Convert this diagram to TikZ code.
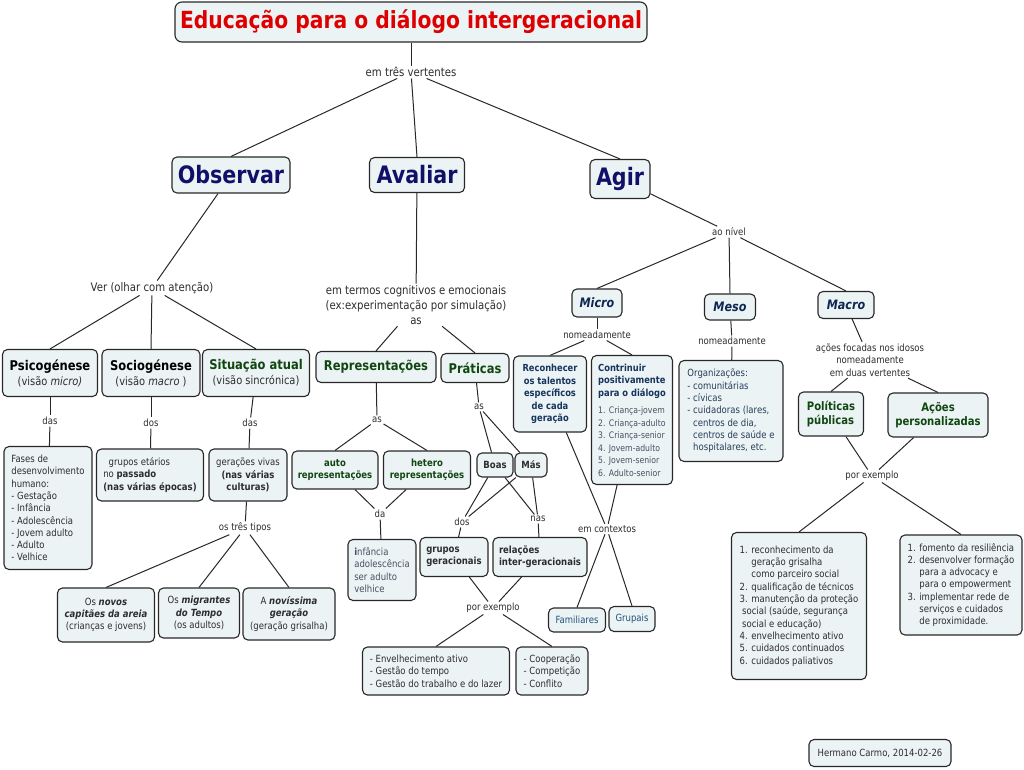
\documentclass[tikz,border=0pt]{standalone}
\usepackage{fontspec}
\setmainfont{DejaVu Sans}[FakeStretch=0.86]
\definecolor{boxfill}{RGB}{236,243,245}
\definecolor{bordercol}{RGB}{40,40,40}
\definecolor{txt}{RGB}{45,45,45}
\definecolor{linecol}{RGB}{40,40,40}
\definecolor{titlered}{RGB}{222,0,0}
\definecolor{navy}{RGB}{16,16,105}
\definecolor{microblue}{RGB}{14,40,82}
\definecolor{dkgreen}{RGB}{16,70,16}
\definecolor{recblue}{RGB}{22,52,92}
\definecolor{listblue}{RGB}{70,82,98}
\definecolor{orgblue}{RGB}{38,62,88}
\definecolor{ctxblue}{RGB}{32,82,122}
\newcommand{\FSmall}{\fontsize{9.9}{12.3}\selectfont}
\newcommand{\FBig}{\fontsize{11.8}{15}\selectfont}
\newcommand{\FHead}{\fontsize{13.4}{15}\selectfont\bfseries}
\newcommand{\FSub}{\fontsize{11.5}{15}\selectfont}
\newcommand{\FList}{\fontsize{9}{11.3}\selectfont\mdseries\color{listblue}}
\begin{document}
\begin{tikzpicture}[x=1pt,y=-1pt,
  box/.style={draw=bordercol, line width=1.1pt, rounded corners=5pt, fill=boxfill,
    inner sep=2pt, text=txt, font=\FSmall},
  lbl/.style={inner sep=1.5pt, text=txt, font=\FSmall, align=center},
  biglbl/.style={inner sep=1.5pt, text=txt, font=\FBig, align=center},
  conn/.style={draw=linecol, line width=1pt}]
\fill[white] (0,0) rectangle (1024,769);
\useasboundingbox (0,0) rectangle (1024,769);

% ---- top ----
\node[box, rounded corners=7pt, minimum width=472pt, minimum height=40pt, text=titlered,
  font=\fontsize{23.6}{26}\selectfont\bfseries] (title) at (411,22) {Educação para o diálogo intergeracional};
\node[biglbl] (l_tres) at (411,72) {em três vertentes};
\node[box, minimum width=118pt, minimum height=36pt, text=navy, font=\fontsize{24}{26}\selectfont\bfseries] (obs) at (231,175) {Observar};
\node[box, minimum width=95pt, minimum height=35pt, text=navy, font=\fontsize{24}{26}\selectfont\bfseries] (ava) at (417,175) {Avaliar};
\node[box, minimum width=60pt, minimum height=39pt, text=navy, font=\fontsize{24}{26}\selectfont\bfseries] (agir) at (620,179) {Agir};

% ---- Observar branch ----
\node[biglbl] (l_ver) at (152,288) {Ver (olhar com atenção)};
\node[box, minimum width=95pt, minimum height=47pt, align=center, font=\FSub] (psi) at (50,373)
  {{\FHead\color{black}Psicogénese}\\(visão \textit{micro)}};
\node[box, minimum width=98pt, minimum height=47pt, align=center, font=\FSub] (soc) at (151,373)
  {{\FHead\color{black}Sociogénese}\\(visão \textit{macro} )};
\node[box, minimum width=107pt, minimum height=47pt, align=center, font=\FSub] (sit) at (256,373)
  {{\FHead\color{dkgreen}Situação atual}\\(visão sincrónica)};
\node[lbl] (l_das1) at (50,421) {das};
\node[lbl] (l_dos1) at (151,423) {dos};
\node[lbl] (l_das2) at (250,423) {das};
\node[box, minimum width=88pt, minimum height=123pt, align=left] (fases) at (48,508)
  {Fases de\\desenvolvimento\\humano:\\- Gestação\\- Infância\\- Adolescência\\- Jovem adulto\\- Adulto\\- Velhice};
\node[box, minimum width=107pt, minimum height=52pt, align=left] (grupos) at (150,475)
  {\ \ grupos etários\\no \textbf{passado}\\\textbf{(nas várias épocas)}};
\node[box, minimum width=78pt, minimum height=52pt, align=center] (gerac) at (248,475)
  {gerações vivas\\\textbf{(nas várias}\\\textbf{culturas)}};
\node[lbl] (l_tipos) at (245,528) {os três tipos};
\node[box, minimum width=97pt, minimum height=54pt, align=center] (novos) at (106,615)
  {Os \textbf{\textit{novos}}\\\textbf{\textit{capitães da areia}}\\(crianças e jovens)};
\node[box, minimum width=81pt, minimum height=50pt, align=center] (migr) at (199,613)
  {Os \textbf{\textit{migrantes}}\\\textbf{\textit{do Tempo}}\\(os adultos)};
\node[box, minimum width=92pt, minimum height=52pt, align=center] (noviss) at (289,614)
  {A \textbf{\textit{novíssima}}\\\textbf{\textit{geração}}\\(geração grisalha)};

% ---- Avaliar branch ----
\node[biglbl] (l_cog) at (416,305) {em termos cognitivos e emocionais\\(ex:experimentação por simulação)\\as};
\node[box, minimum width=120pt, minimum height=31pt, text=dkgreen, font=\FHead] (repr) at (376,367) {Representações};
\node[box, minimum width=68pt, minimum height=29pt, text=dkgreen, font=\FHead] (prat) at (475,368) {Práticas};
\node[lbl] (l_as2) at (377,420) {as};
\node[box, minimum width=86pt, minimum height=38pt, align=center, text=dkgreen, font=\FSmall\bfseries] (auto) at (335,470)
  {auto\\representações};
\node[box, minimum width=87pt, minimum height=38pt, align=center, text=dkgreen, font=\FSmall\bfseries] (hetero) at (427,470)
  {hetero\\representações};
\node[lbl] (l_da) at (380,514) {da};
\node[box, minimum width=68pt, minimum height=61pt, align=left, text=listblue] (infan) at (382,570)
  {\textbf{i}nfância\\adolescência\\ser adulto\\velhice};
\node[lbl] (l_as3) at (479,407) {as};
\node[box, minimum width=36pt, minimum height=24pt, font=\FSmall\bfseries] (boas) at (495,465) {Boas};
\node[box, minimum width=32pt, minimum height=24pt, font=\FSmall\bfseries] (mas) at (531,465) {Más};
\node[lbl] (l_dos2) at (462,522) {dos};
\node[lbl] (l_nas) at (538,519) {nas};
\node[box, minimum width=68pt, minimum height=39pt, align=left, font=\FSmall\bfseries] (grupos2) at (454,557)
  {grupos\\geracionais};
\node[box, minimum width=94pt, minimum height=39pt, align=left, font=\FSmall\bfseries] (relac) at (540,557)
  {relações\\inter-geracionais};
\node[lbl] (l_porex1) at (493,608) {por exemplo};
\node[box, minimum width=147pt, minimum height=48pt, align=left] (ex1) at (436,671)
  {- Envelhecimento ativo\\- Gestão do tempo\\- Gestão do trabalho e do lazer};
\node[box, minimum width=72pt, minimum height=48pt, align=left] (ex2) at (552,671)
  {- Cooperação\\- Competição\\- Conflito};

% ---- Agir branch ----
\node[lbl] (l_nivel) at (729,232) {ao nível};
\node[box, minimum width=50pt, minimum height=28pt, text=microblue, font=\fontsize{13}{15}\selectfont\bfseries\itshape] (micro) at (597,303) {Micro};
\node[box, minimum width=51pt, minimum height=26pt, text=microblue, font=\fontsize{13}{15}\selectfont\bfseries\itshape] (meso) at (730,307) {Meso};
\node[box, minimum width=56pt, minimum height=27pt, text=microblue, font=\fontsize{13}{15}\selectfont\bfseries\itshape] (macro) at (846,305) {Macro};
\node[lbl] (l_nome1) at (597,335) {nomeadamente};
\node[box, minimum width=73pt, minimum height=76pt, align=center, text=recblue, font=\fontsize{9.7}{12.5}\selectfont\bfseries] (recon) at (550,394)
  {Reconhecer\\os talentos\\específicos\\de cada\\geração};
\node[box, minimum width=81pt, minimum height=129pt, align=left, text=recblue, font=\fontsize{9.7}{12.5}\selectfont\bfseries] (contr) at (632,420)
  {Contrinuir\\positivamente\\para o diálogo\\[5pt]\FList 1. Criança-jovem\\\FList 2. Criança-adulto\\\FList 3. Criança-senior\\\FList 4. Jovem-adulto\\\FList 5. Jovem-senior\\\FList 6. Adulto-senior};
\node[lbl] (l_ctx) at (607,529) {em contextos};
\node[box, minimum width=57pt, minimum height=24pt, text=ctxblue] (famil) at (577,620) {Familiares};
\node[box, minimum width=46pt, minimum height=25pt, text=ctxblue] (grupais) at (632,619) {Grupais};
\node[lbl] (l_nome2) at (732,341) {nomeadamente};
\node[box, minimum width=104pt, minimum height=101pt, align=left, text=orgblue] (org) at (731,411)
  {Organizações:\\- comunitárias\\- cívicas\\- cuidadoras (lares,\\\phantom{- }centros de dia,\\\phantom{- }centros de saúde e\\\phantom{- }hospitalares, etc.};
\node[lbl, font=\fontsize{9.9}{12.5}\selectfont] (l_acoes) at (870,360) {ações focadas nos idosos\\nomeadamente\\em duas vertentes};
\node[box, minimum width=65pt, minimum height=44pt, align=left, text=dkgreen, font=\fontsize{11.7}{14.5}\selectfont\bfseries] (polit) at (831,414)
  {Políticas\\públicas};
\node[box, minimum width=100pt, minimum height=44pt, align=center, text=dkgreen, font=\fontsize{11.7}{14.5}\selectfont\bfseries] (acoes) at (938,415)
  {Ações\\personalizadas};
\node[lbl] (l_porex2) at (872,476) {por exemplo};
\node[box, minimum width=135pt, minimum height=147pt, align=left] (ex3) at (799,606)
  {1. reconhecimento da\\\phantom{1. }geração grisalha\\\phantom{1. }como parceiro social\\2. qualificação de técnicos\\3. manutenção da proteção\\\hspace{2.5pt}social (saúde, segurança\\\hspace{2.5pt}social e educação)\\4. envelhecimento ativo\\5. cuidados continuados\\6. cuidados paliativos};
\node[box, minimum width=122pt, minimum height=100pt, align=left] (ex4) at (961,585)
  {1. fomento da resiliência\\2. desenvolver formação\\\phantom{2. }para a advocacy e\\\phantom{2. }para o empowerment\\3. implementar rede de\\\phantom{3. }serviços e cuidados\\\phantom{3. }de proximidade.};
\node[box, minimum width=142pt, minimum height=27pt] (credit) at (880,753) {Hermano Carmo, 2014-02-26};

% ---- connectors ----
\draw[conn] (title) -- (l_tres);
\draw[conn] (l_tres) -- (obs.north);
\draw[conn] (l_tres) -- (ava.north);
\draw[conn] (l_tres) -- (agir.north);
\draw[conn] (obs) -- (l_ver);
\draw[conn] (l_ver) -- (psi.north);
\draw[conn] (l_ver) -- (soc.north);
\draw[conn] (l_ver) -- (sit.north);
\draw[conn] (psi) -- (l_das1);
\draw[conn] (l_das1) -- (fases);
\draw[conn] (soc) -- (l_dos1);
\draw[conn] (l_dos1) -- (grupos);
\draw[conn] (sit) -- (l_das2);
\draw[conn] (l_das2) -- (gerac);
\draw[conn] (gerac) -- (l_tipos);
\draw[conn] (l_tipos) -- (novos.north);
\draw[conn] (l_tipos) -- (migr.north);
\draw[conn] (l_tipos) -- (noviss.north);
\draw[conn] (ava) -- (l_cog);
\draw[conn] (l_cog) -- (repr.north);
\draw[conn] (l_cog) -- (prat.north);
\draw[conn] (repr) -- (l_as2);
\draw[conn] (l_as2) -- (auto.north);
\draw[conn] (l_as2) -- (hetero.north);
\draw[conn] (auto) -- (l_da);
\draw[conn] (hetero) -- (l_da);
\draw[conn] (l_da) -- (infan);
\draw[conn] (prat) -- (l_as3);
\draw[conn] (l_as3) -- (boas);
\draw[conn] (l_as3) -- (mas);
\draw[conn] (boas) -- (l_dos2);
\draw[conn] (boas) -- (l_nas);
\draw[conn] (mas) -- (l_dos2);
\draw[conn] (mas) -- (l_nas);
\draw[conn] (l_dos2) -- (grupos2);
\draw[conn] (l_nas) -- (relac);
\draw[conn] (grupos2) -- (l_porex1);
\draw[conn] (relac) -- (l_porex1);
\draw[conn] (l_porex1) -- (ex1.north);
\draw[conn] (l_porex1) -- (ex2.north);
\draw[conn] (agir) -- (l_nivel);
\draw[conn] (l_nivel) -- (micro.north);
\draw[conn] (l_nivel) -- (meso.north);
\draw[conn] (l_nivel) -- (macro.north);
\draw[conn] (micro) -- (l_nome1);
\draw[conn] (l_nome1) -- (recon.north);
\draw[conn] (l_nome1) -- (contr.north);
\draw[conn] (recon) -- (l_ctx);
\draw[conn] (contr) -- (l_ctx);
\draw[conn] (l_ctx) -- (famil.north);
\draw[conn] (l_ctx) -- (grupais.north);
\draw[conn] (meso) -- (l_nome2);
\draw[conn] (l_nome2) -- (org);
\draw[conn] (macro) -- (l_acoes);
\draw[conn] (l_acoes) -- (polit.north);
\draw[conn] (l_acoes) -- (acoes.north);
\draw[conn] (polit) -- (l_porex2);
\draw[conn] (acoes) -- (l_porex2);
\draw[conn] (l_porex2) -- (ex3.north);
\draw[conn] (l_porex2) -- (ex4.north);
\end{tikzpicture}
\end{document}
